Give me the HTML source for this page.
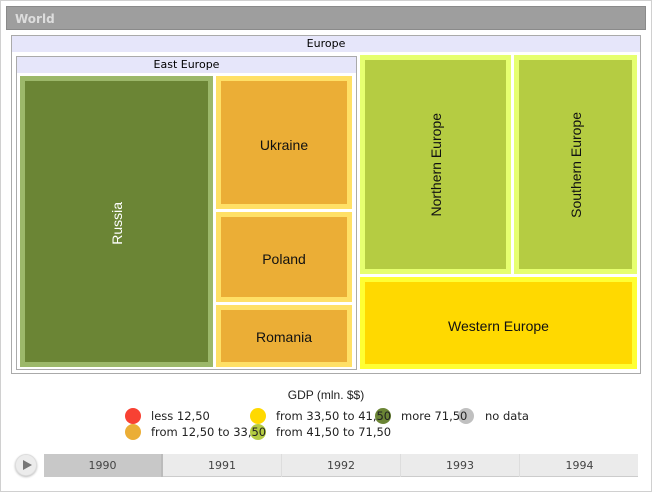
<!DOCTYPE html>
<html><head><style>
body{margin:0;width:652px;height:492px;position:relative;background:#fff;font-family:"Liberation Sans",sans-serif;overflow:hidden}
div{position:absolute;box-sizing:border-box}
.t{font-size:14px;color:#111;display:flex;align-items:center;justify-content:center;text-align:center}
.v{writing-mode:vertical-rl;transform:rotate(180deg)}
.lg{font-size:11.5px;color:#222;font-family:"DejaVu Sans",sans-serif}
.c{width:16px;height:16px;border-radius:50%}
.yr{top:454px;height:23px;width:119px;font-size:11px;color:#444;font-family:"DejaVu Sans",sans-serif;display:flex;align-items:center;justify-content:center;border-right:1px solid #ddd}
</style></head><body>
<div style="left:0;top:0;width:652px;height:492px;border:1px solid #d0d0d0"></div>
<div style="left:6px;top:6px;width:640px;height:24px;background:#9e9e9e;border:1px solid #8a8a8a;color:#ddd;font-weight:bold;font-size:12px;padding:5px 0 0 8px;font-family:'DejaVu Sans',sans-serif">World</div>
<div style="left:11px;top:35px;width:630px;height:339px;border:1px solid #aaa"></div>
<div style="left:12px;top:36px;width:628px;height:16px;background:#e6e6fa;font-size:11px;font-family:'DejaVu Sans',sans-serif;text-align:center;line-height:15px">Europe</div>
<div style="left:16px;top:56px;width:341px;height:314px;border:1px solid #aaa"></div>
<div style="left:17px;top:57px;width:339px;height:16px;background:#e6e6fa;font-size:11px;font-family:'DejaVu Sans',sans-serif;text-align:center;line-height:15px">East Europe</div>

<div style="left:20px;top:76px;width:193px;height:291px;background:#9cb86a"></div>
<div class="t" style="left:25px;top:81px;width:183px;height:281px;background:#6b8535;color:#fff;padding-top:3px"><span class="v">Russia</span></div>

<div style="left:216px;top:76px;width:136px;height:133px;background:#ffe066"></div>
<div class="t" style="left:221px;top:81px;width:126px;height:123px;background:#ebae36;padding-top:4px">Ukraine</div>
<div style="left:216px;top:212px;width:136px;height:90px;background:#ffe066"></div>
<div class="t" style="left:221px;top:217px;width:126px;height:80px;background:#ebae36;padding-top:4px">Poland</div>
<div style="left:216px;top:305px;width:136px;height:62px;background:#ffe066"></div>
<div class="t" style="left:221px;top:310px;width:126px;height:52px;background:#ebae36;padding-top:2px">Romania</div>

<div style="left:360px;top:55px;width:151px;height:219px;background:#e6ff70"></div>
<div class="t" style="left:365px;top:60px;width:141px;height:209px;background:#b5cc42"><span class="v">Northern Europe</span></div>
<div style="left:514px;top:55px;width:123px;height:219px;background:#e6ff70"></div>
<div class="t" style="left:519px;top:60px;width:113px;height:209px;background:#b5cc42"><span class="v">Southern Europe</span></div>
<div style="left:360px;top:277px;width:277px;height:92px;background:#ffff33"></div>
<div class="t" style="left:365px;top:282px;width:267px;height:82px;background:#ffd900;padding-top:6px">Western Europe</div>

<div style="left:0;top:388px;width:652px;text-align:center;font-size:12px;color:#222">GDP (mln. $$)</div>
<div class="c" style="left:125px;top:408px;background:#f84133"></div>
<div class="c" style="left:125px;top:424px;background:#ebae36"></div>
<div class="c" style="left:250px;top:408px;background:#ffd900"></div>
<div class="c" style="left:250px;top:424px;background:#b5cc42"></div>
<div class="c" style="left:375px;top:408px;background:#6b8535"></div>
<div class="c" style="left:458px;top:408px;background:#c0c0c0"></div>
<div class="lg" style="left:151px;top:409px">less 12,50</div>
<div class="lg" style="left:151px;top:425px">from 12,50 to 33,50</div>
<div class="lg" style="left:276px;top:409px">from 33,50 to 41,50</div>
<div class="lg" style="left:276px;top:425px">from 41,50 to 71,50</div>
<div class="lg" style="left:401px;top:409px">more 71,50</div>
<div class="lg" style="left:485px;top:409px">no data</div>

<div style="left:15px;top:454px;width:22px;height:22px;border-radius:50%;background:#ececec;border:1px solid #ddd;box-shadow:0 1px 2px #bbb"></div>
<div style="left:23px;top:460px;width:0;height:0;border-left:9px solid #777;border-top:5px solid transparent;border-bottom:5px solid transparent"></div>
<div style="left:44px;top:454px;width:594px;height:23px;background:#ebebeb;border-bottom:1px solid #ccc"></div>
<div class="yr" style="left:44px;background:#c8c8c8;border-right:2px solid #bbb">1990</div>
<div class="yr" style="left:163px">1991</div>
<div class="yr" style="left:282px">1992</div>
<div class="yr" style="left:401px">1993</div>
<div class="yr" style="left:520px;border-right:none">1994</div>
</body></html>
